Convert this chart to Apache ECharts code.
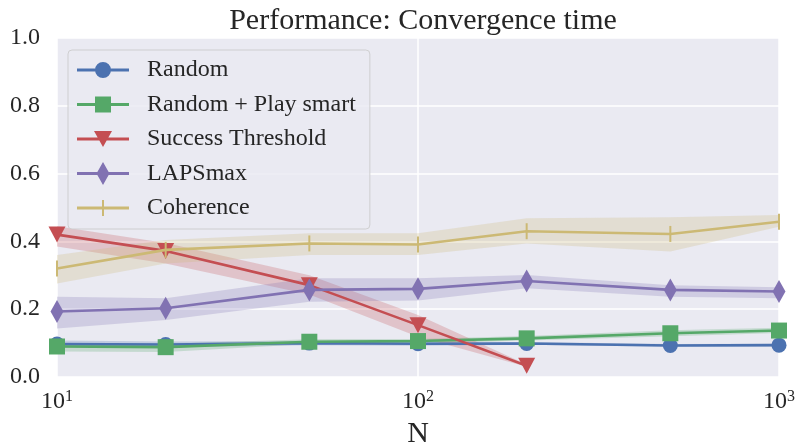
<!DOCTYPE html>
<html>
<head>
<meta charset="utf-8">
<script src="https://cdn.jsdelivr.net/npm/echarts@6/dist/echarts.min.js"></script>
<style>
html,body{margin:0;padding:0;background:#fff;}
#chart{width:795px;height:448px;}
</style>
</head>
<body>
<div id="chart"></div>
<script>
// ---- data ----
const N = [10, 20, 50, 100, 200, 500, 1000];
const xTicks = [10, 100, 1000];
const yTicks = [0.0, 0.2, 0.4, 0.6, 0.8, 1.0];

const randomMean = [0.097, 0.096, 0.100, 0.098, 0.099, 0.093, 0.094];
const randomLo   = [0.089, 0.088, 0.094, 0.092, 0.095, 0.089, 0.090];
const randomHi   = [0.108, 0.105, 0.106, 0.104, 0.103, 0.097, 0.098];

const smartMean = [0.090, 0.088, 0.104, 0.106, 0.114, 0.129, 0.137];
const smartLo   = [0.075, 0.074, 0.097, 0.099, 0.108, 0.120, 0.130];
const smartHi   = [0.100, 0.098, 0.111, 0.112, 0.121, 0.138, 0.145];

const threshN    = [10, 20, 50, 100, 200];
const threshMean = [0.420, 0.372, 0.271, 0.153, 0.033];
const threshLo   = [0.385, 0.335, 0.243, 0.119, 0.030];
const threshHi   = [0.445, 0.395, 0.300, 0.183, 0.037];

const lapsMean = [0.193, 0.203, 0.257, 0.260, 0.283, 0.257, 0.252];
const lapsLo   = [0.143, 0.168, 0.222, 0.226, 0.262, 0.237, 0.232];
const lapsHi   = [0.237, 0.232, 0.291, 0.291, 0.301, 0.271, 0.265];

const cohMean = [0.320, 0.375, 0.394, 0.391, 0.430, 0.422, 0.458];
const cohLo   = [0.276, 0.335, 0.360, 0.360, 0.394, 0.370, 0.443];
const cohHi   = [0.360, 0.404, 0.424, 0.424, 0.468, 0.471, 0.478];

const names = ['Random', 'Random + Play smart', 'Success Threshold', 'LAPSmax', 'Coherence'];
const colors = ['#4C72B0', '#55A868', '#C44E52', '#8172B2', '#CCB974'];

// ---- build ----
const FONT = 'Liberation Serif';
const TXT = '#262626';

const groups = [
  {x: N, m: randomMean, lo: randomLo, hi: randomHi},
  {x: N, m: smartMean, lo: smartLo, hi: smartHi},
  {x: threshN, m: threshMean, lo: threshLo, hi: threshHi},
  {x: N, m: lapsMean, lo: lapsLo, hi: lapsHi},
  {x: N, m: cohMean, lo: cohLo, hi: cohHi}
];

const symbols = [
  {symbol: 'circle', symbolSize: 15},
  {symbol: 'rect', symbolSize: 16},
  {symbol: 'triangle', symbolSize: [17, 16], symbolRotate: 180},
  {symbol: 'diamond', symbolSize: [13, 23]},
  {symbol: 'rect', symbolSize: [2, 16]}
];

// legend icons (52 x 24 box)
const corner = 'M0,0 L0.01,0 L0,0.01 Z M52,24 L51.99,24 L52,23.99 Z ';
const lineP = 'M0,10.6 H52 V13.4 H0 Z ';
const icons = [
  'path://' + corner + lineP + 'M18,12 A8,8 0 1 1 34,12 A8,8 0 1 1 18,12 Z',
  'path://' + corner + lineP + 'M18,4 H34 V20 H18 Z',
  'path://' + corner + lineP + 'M17,4 H35 L26,20 Z',
  'path://' + corner + lineP + 'M26,0.5 L32.5,12 L26,23.5 L19.5,12 Z',
  'path://' + corner + lineP + 'M25,4 H27 V20 H25 Z'
];

const series = [];
groups.forEach((g, k) => {
  series.push({
    type: 'custom',
    name: names[k] + ' band',
    z: 1,
    silent: true,
    data: [[g.x[0], g.m[0]]],
    renderItem: function (params, api) {
      const pts = [];
      for (let i = 0; i < g.x.length; i++) pts.push(api.coord([g.x[i], g.hi[i]]));
      for (let i = g.x.length - 1; i >= 0; i--) pts.push(api.coord([g.x[i], g.lo[i]]));
      return {
        type: 'polygon',
        shape: {points: pts},
        style: {fill: colors[k], opacity: 0.25, stroke: null}
      };
    }
  });
});
groups.forEach((g, k) => {
  series.push(Object.assign({
    type: 'line',
    name: names[k],
    z: 3 + k,
    data: g.x.map((x, i) => [x, g.m[i]]),
    lineStyle: {color: colors[k], width: 2.6},
    itemStyle: {color: colors[k], opacity: 1},
    showAllSymbol: true,
    emphasis: {disabled: true}
  }, symbols[k]));
});

const chart = echarts.init(document.getElementById('chart'), null, {renderer: 'canvas'});
chart.setOption({
  animation: false,
  backgroundColor: '#ffffff',
  title: {
    text: 'Performance: Convergence time',
    left: 418, top: 1, textAlign: 'center',
    textStyle: {fontFamily: FONT, fontSize: 30, fontWeight: 'normal', color: TXT}
  },
  grid: {left: 57, right: 16, top: 38, bottom: 71, show: true, backgroundColor: '#EAEAF2', borderWidth: 0,
         containLabel: false, outerBoundsMode: 'none'},
  legend: {
    orient: 'vertical',
    left: 68, top: 50,
    padding: [8, 14, 9, 9],
    itemWidth: 52, itemHeight: 24, itemGap: 10.5,
    backgroundColor: 'rgba(234,234,242,0.85)',
    borderColor: 'rgba(204,204,204,0.9)', borderWidth: 1, borderRadius: 4,
    textStyle: {fontFamily: FONT, fontSize: 24, color: TXT, padding: [0, 0, 0, 13]},
    data: names.map((n, k) => ({name: n, icon: icons[k]})),
    selectedMode: false
  },
  xAxis: {
    type: 'log', logBase: 10, min: 10, max: 1000,
    name: 'N', nameLocation: 'middle', nameGap: 41,
    nameTextStyle: {fontFamily: FONT, fontSize: 30, color: TXT},
    axisLine: {show: false}, axisTick: {show: false},
    splitLine: {show: true, lineStyle: {color: '#ffffff', width: 1.5}},
    minorSplitLine: {show: false},
    axisLabel: {
      margin: 12,
      showMinLabel: true, showMaxLabel: true,
      formatter: function (v) {
        const e = Math.round(Math.log10(v));
        return '{b|10}{s|' + e + '}';
      },
      rich: {
        b: {fontFamily: FONT, fontSize: 24, color: TXT, lineHeight: 26},
        s: {fontFamily: FONT, fontSize: 16, color: TXT, lineHeight: 16, verticalAlign: 'top'}
      }
    }
  },
  yAxis: {
    type: 'value', min: 0, max: 1, interval: 0.2,
    axisLine: {show: false}, axisTick: {show: false},
    splitLine: {show: true, lineStyle: {color: '#ffffff', width: 1.5}},
    axisLabel: {
      margin: 17, fontFamily: FONT, fontSize: 24, color: TXT,
      formatter: function (v) { return v.toFixed(1); }
    }
  },
  series: series
});
</script>
</body>
</html>
